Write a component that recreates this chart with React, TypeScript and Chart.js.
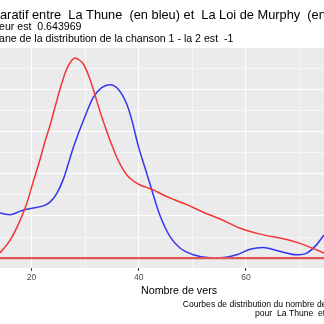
import React, { useEffect, useRef } from "react";
import { Chart, registerables } from "chart.js";

Chart.register(...registerables);

// ---- Data ----
const xMajorTicks = [20, 40, 60];
const xRange = [14.13, 74.54];
const yRange = [-0.235, 4.99];

// density values (arbitrary units, same scale for both songs)
const redX = [14.13, 15.99, 17.86, 19.1, 20.34, 21.59, 22.52, 23.45, 24.38, 25.31, 26.56, 27.37, 28.11, 28.86, 29.66, 30.91, 32.16, 33.09, 34.02, 34.96, 35.89, 36.82, 37.75, 38.69, 39.62, 40.55, 41.48, 42.71, 44.89, 46.76, 48.94, 52.04, 55.15, 58.88, 62.61, 67.59, 70.69, 74.54];
const redY = [0.12, 0.42, 0.89, 1.29, 1.82, 2.34, 2.77, 3.15, 3.58, 4.01, 4.49, 4.67, 4.75, 4.71, 4.61, 4.25, 3.74, 3.36, 3.02, 2.69, 2.4, 2.16, 1.98, 1.86, 1.78, 1.72, 1.68, 1.62, 1.48, 1.38, 1.27, 1.09, 0.93, 0.71, 0.57, 0.44, 0.32, 0.12];

const blueX = [14.13, 15.99, 17.86, 19.1, 20.34, 22.2, 23.45, 24.7, 25.93, 26.86, 27.79, 29.66, 31.52, 33.09, 34.64, 36.19, 37.75, 38.69, 39.92, 41.17, 42.41, 43.96, 45.83, 47.69, 50.17, 53.29, 55.15, 58.26, 60.75, 63.23, 65.73, 69.45, 71.32, 73.18, 74.54];
const blueY = [1.07, 1.03, 1.11, 1.16, 1.19, 1.24, 1.33, 1.53, 1.87, 2.24, 2.62, 3.26, 3.82, 4.05, 4.12, 4.01, 3.66, 3.29, 2.66, 2.14, 1.63, 1.01, 0.51, 0.24, 0.08, 0.01, 0.01, 0.08, 0.21, 0.25, 0.18, 0.08, 0.12, 0.32, 0.55];

const baselineX = [14.13, 74.54];
const baselineY = [0, 0];

const titleText = "Comparatif entre  La Thune  (en bleu) et  La Loi de Murphy  (en rouge)";
const titleHiddenPrefix = "Comp";
const subtitle1 = "eur est  0.643969";
const subtitle2 = "ane de la distribution de la chanson 1 - la 2 est  -1";
const xTitle = "Nombre de vers";
const caption1 = "Courbes de distribution du nombre de vers";
const caption2 = "pour  La Thune  et  La Loi de Murphy";

const FONT = "'Liberation Sans', Arial, sans-serif";

const toPoints = (xs: number[], ys: number[]) => xs.map((x, i) => ({ x, y: ys[i] }));

const decorPlugin = {
  id: "decor",
  beforeDraw(chart: any) {
    const { ctx, chartArea } = chart;
    ctx.save();
    ctx.fillStyle = "#ffffff";
    ctx.fillRect(0, 0, chart.width, chart.height);
    ctx.fillStyle = "#EBEBEB";
    ctx.fillRect(chartArea.left, chartArea.top, chartArea.right - chartArea.left, chartArea.bottom - chartArea.top);
    ctx.restore();
  },
  afterDraw(chart: any) {
    const { ctx } = chart;
    ctx.save();
    ctx.textBaseline = "alphabetic";
    ctx.textAlign = "left";
    ctx.fillStyle = "#000000";
    ctx.font = `12.8px ${FONT}`;
    const off = ctx.measureText(titleHiddenPrefix).width;
    ctx.fillText(titleText, -off, 19);
    ctx.font = `10.6px ${FONT}`;
    ctx.fillText(subtitle1, -1, 29.5);
    ctx.fillText(subtitle2, -1, 41.5);
    ctx.font = `10.7px ${FONT}`;
    ctx.fillText(xTitle, 141, 294);
    ctx.font = `8.6px ${FONT}`;
    ctx.fillText(caption1, 182.7, 306.5);
    ctx.fillText(caption2, 255, 315.5);
    ctx.restore();
  },
};

export default function App() {
  const ref = useRef<HTMLCanvasElement>(null);
  useEffect(() => {
    if (!ref.current) return;
    const chart = new Chart(ref.current, {
      type: "line",
      data: {
        datasets: [
          {
            label: "La Loi de Murphy base",
            data: toPoints(baselineX, baselineY),
            borderColor: "#e05656",
            borderWidth: 2.2,
            pointRadius: 0,
            fill: false,
          },
          {
            label: "La Loi de Murphy",
            data: toPoints(redX, redY),
            borderColor: "#f23535",
            borderWidth: 1.5,
            pointRadius: 0,
            cubicInterpolationMode: "monotone",
            fill: false,
          },
          {
            label: "La Thune",
            data: toPoints(blueX, blueY),
            borderColor: "#3535f2",
            borderWidth: 1.5,
            pointRadius: 0,
            cubicInterpolationMode: "monotone",
            fill: false,
          },
          {
            label: "La Thune base",
            data: toPoints(baselineX, baselineY),
            borderColor: "#3535f2",
            borderWidth: 1.2,
            pointRadius: 0,
            fill: false,
          },
        ],
      },
      options: {
        responsive: false,
        animation: false,
        devicePixelRatio: 1,
        layout: { padding: { top: 48, left: 0, right: 0, bottom: 0 } },
        plugins: {
          legend: { display: false },
          tooltip: { enabled: false },
          title: { display: false },
        },
        scales: {
          x: {
            type: "linear",
            min: xRange[0],
            max: xRange[1],
            border: { display: false },
            afterFit: (scale: any) => {
              scale.height = 56;
            },
            ticks: {
              stepSize: 10,
              includeBounds: false,
              autoSkip: false,
              maxRotation: 0,
              padding: 1,
              color: "#4D4D4D",
              font: { family: FONT, size: 8.6 },
              callback: (v: any) => (xMajorTicks.includes(Number(v)) ? String(v) : ""),
            },
            grid: {
              color: "#ffffff",
              lineWidth: (c: any) => (c.tick && xMajorTicks.includes(c.tick.value) ? 1.1 : 0.55),
              drawTicks: true,
              tickLength: 3,
              tickWidth: 1,
              tickColor: (c: any) => (c.tick && xMajorTicks.includes(c.tick.value) ? "#333333" : "rgba(0,0,0,0)"),
            },
          },
          y: {
            type: "linear",
            min: yRange[0],
            max: yRange[1],
            border: { display: false },
            afterFit: (scale: any) => {
              scale.width = 0;
            },
            ticks: { display: false, stepSize: 0.5, includeBounds: false },
            grid: {
              color: "#ffffff",
              drawTicks: false,
              lineWidth: (c: any) => (c.tick && Number.isInteger(c.tick.value) ? 1.1 : 0.55),
            },
          },
        },
      },
      plugins: [decorPlugin],
    });
    return () => chart.destroy();
  }, []);
  return (
    <canvas
      ref={ref}
      width={324}
      height={324}
      style={{ position: "fixed", left: 0, top: 0, width: 324, height: 324, display: "block" }}
    />
  );
}
